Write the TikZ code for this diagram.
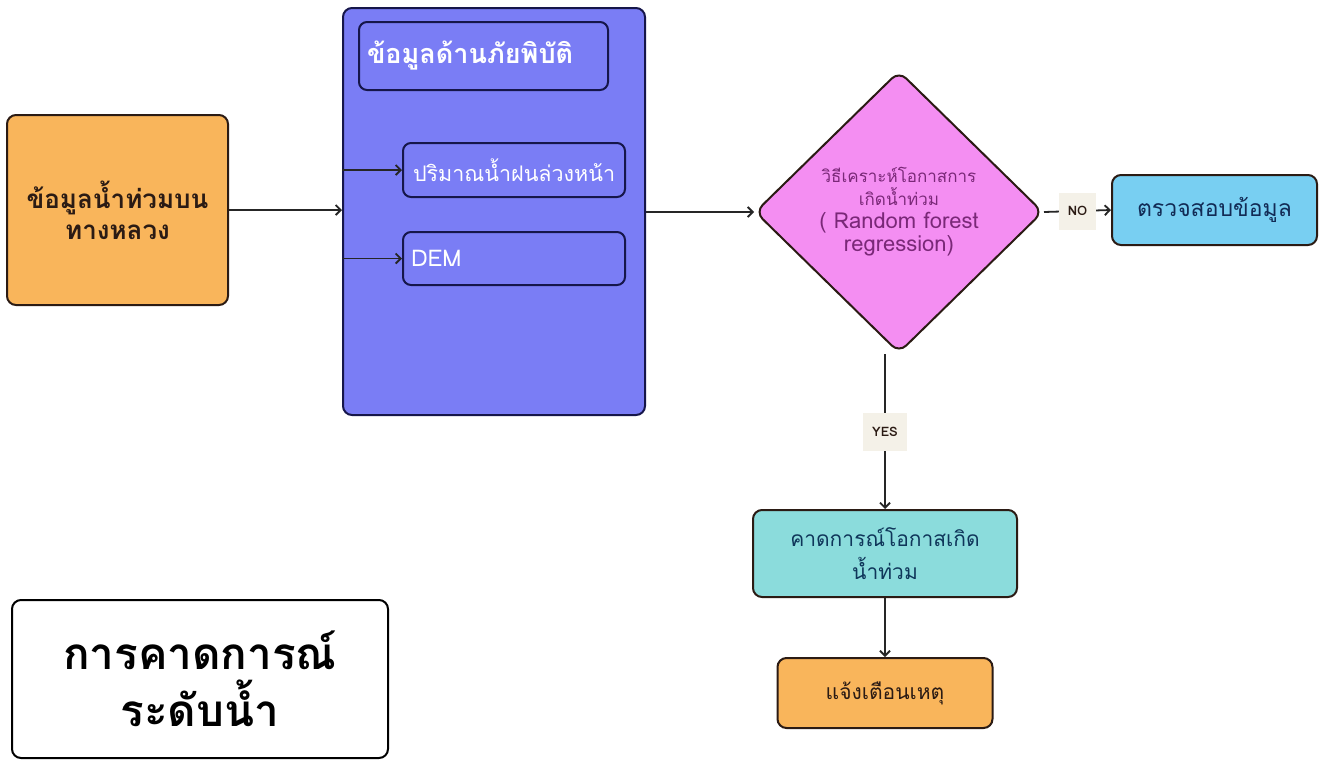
\documentclass[tikz,border=0pt]{standalone}
\usepackage{fontspec}
\newfontfamily\thaifont[Script=Thai]{Loma}
\usepackage{xcolor}
\usetikzlibrary{arrows.meta, positioning, shapes.geometric}

\definecolor{srcfill}{HTML}{F9B55B}
\definecolor{hazfill}{HTML}{7A7DF5}
\definecolor{navy}{HTML}{16164A}
\definecolor{pinkfill}{HTML}{F48EF2}
\definecolor{pinktext}{HTML}{7A2878}
\definecolor{skyfill}{HTML}{78CFF2}
\definecolor{tealfill}{HTML}{8BDCDC}
\definecolor{tagbg}{HTML}{F4F1E8}
\definecolor{darktext}{HTML}{2B1B14}

\begin{document}
\begin{tikzpicture}[x=1pt, y=-1pt, font=\thaifont,
  box/.style={draw=darktext, line width=2pt, rounded corners=9pt, inner sep=0pt, align=center},
  subbox/.style={draw=navy, fill=hazfill, line width=2pt, rounded corners=8pt, inner ysep=0pt,
    align=left, text=white},
  flow/.style={-{Straight Barb[length=5pt, width=10pt]}, line width=1.8pt, draw=black!85},
  tag/.style={fill=tagbg, inner xsep=9pt, minimum height=37pt, text=darktext,
    font=\thaifont\bfseries\fontsize{13}{15}\selectfont}]
  \useasboundingbox (0,0) rectangle (1320,761);
  \fill[white] (0,0) rectangle (1320,761);

  % Source data
  \node[box, fill=srcfill, minimum width=221pt, minimum height=190pt, text=darktext,
    font=\thaifont\bfseries\fontsize{26}{31}\selectfont] (src) at (117.5,210)
    {ข้อมูลน้ำท่วมบน\\ทางหลวง};

  % Hazard data group
  \node[box, draw=navy, fill=hazfill, minimum width=302pt, minimum height=407pt] (hazard) at (494,211.5) {};
  \node[subbox, text width=233pt, inner xsep=8pt, minimum height=68pt,
    font=\thaifont\bfseries\fontsize{27}{29}\selectfont] (hztitle) at (483.5,56) {ข้อมูลด้านภัยพิบัติ};
  \node[subbox, text width=202pt, inner xsep=10pt, minimum height=54pt,
    font=\thaifont\fontsize{21.5}{24}\selectfont] (rain) at (514,170) {ปริมาณน้ำฝนล่วงหน้า};
  \node[subbox, text width=206pt, inner xsep=8pt, minimum height=53pt,
    font=\thaifont\fontsize{23}{25}\selectfont] (dem) at (514,258.5) {DEM};

  % Decision
  \node[draw=darktext, fill=pinkfill, line width=2pt, diamond, rounded corners=10pt,
    minimum width=288pt, minimum height=282pt, inner sep=0pt, align=center, text=pinktext,
    font=\thaifont\fontsize{17}{23}\selectfont] (diam) at (899,212)
    {วิธีเคราะห์โอกาสการ\\เกิดน้ำท่วม\\{\fontsize{22}{24}\selectfont ( Random forest}\\
     {\fontsize{22}{24}\selectfont regression)}};

  % Outcomes
  \node[box, fill=skyfill, minimum width=205pt, minimum height=70pt, text=navy!80!teal,
    font=\thaifont\fontsize{23}{25}\selectfont] (check) at (1214.5,210) {ตรวจสอบข้อมูล};
  \node[box, fill=tealfill, minimum width=264pt, minimum height=87pt, text=navy!70!teal,
    font=\thaifont\fontsize{21}{33}\selectfont] (pred) at (885,553.5) {คาดการณ์โอกาสเกิด\\น้ำท่วม};
  \node[box, fill=srcfill, minimum width=215pt, minimum height=70pt, text=darktext,
    font=\thaifont\fontsize{21}{25}\selectfont] (warn) at (885,693) {แจ้งเตือนเหตุ};

  % Title
  \node[box, draw=black, fill=white, minimum width=376pt, minimum height=158pt, text=black,
    font=\thaifont\bfseries\fontsize{44}{57}\selectfont] (title) at (200,679)
    {การคาดการณ์\\ระดับน้ำ};

  % Connectors
  \draw[flow] (src.east) -- (src.east -| hazard.west);
  \draw[flow] (hazard.west |- rain.west) -- (rain.west);
  \draw[flow] (hazard.west |- dem.west) -- (dem.west);
  \draw[flow] (hazard.east |- diam.west) -- (diam.west);
  \draw[flow] (diam.east) -- node[tag] {NO} (check.west);
  \draw[flow] (pred.north |- diam.south) -- node[tag, minimum height=38pt] {YES} (pred.north);
  \draw[flow] (pred.south) -- (pred.south |- warn.north);
\end{tikzpicture}
\end{document}
